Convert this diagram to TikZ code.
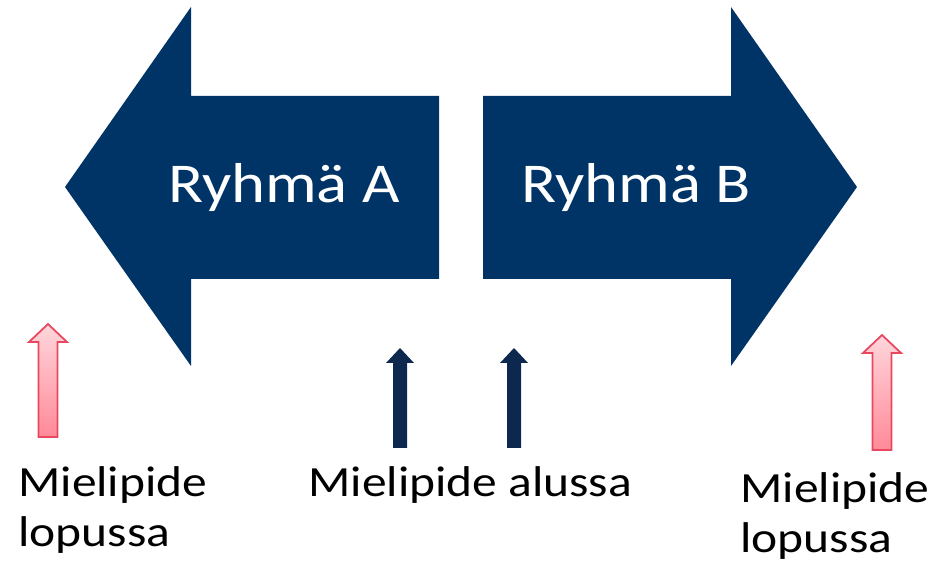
\documentclass[tikz,border=0pt]{standalone}
\usepackage{fontspec}
\setmainfont[FakeStretch=1.15]{Carlito}
\usepackage{tikz}
\usetikzlibrary{positioning}

\definecolor{navy}{RGB}{0,51,102}
\definecolor{darknavy}{RGB}{12,40,78}
\definecolor{pinktop}{RGB}{255,214,220}
\definecolor{pinkbot}{RGB}{255,138,152}
\definecolor{pinkedge}{RGB}{232,72,95}

\begin{document}
\begin{tikzpicture}[
    x=0.02cm, y=-0.02cm,
    bigarrow/.style={fill=navy},
    uparrow/.style={fill=darknavy},
    pinkarrow/.style={draw=pinkedge, line width=1pt, top color=pinktop, bottom color=pinkbot},
    group/.style={text=white, font=\fontsize{32}{36}\selectfont, inner sep=0, anchor=base},
    note/.style={font=\fontsize{24.5}{28.5}\selectfont, align=left, inner sep=0, anchor=base west}
]
    \useasboundingbox (0,0) rectangle (933,573);

    % Group A
    \fill[bigarrow] (65,187) -- (191,7) -- (191,96) -- (439,96) -- (439,279)
        -- (191,279) -- (191,366) -- cycle;
    \node[group] (grpA) at (284,203) {Ryhmä A};

    % Group B
    \fill[bigarrow] (857,187) -- (731,7) -- (731,96) -- (483,96) -- (483,279)
        -- (731,279) -- (731,366) -- cycle;
    \node[group] (grpB) at (636,203) {Ryhmä B};

    % Opinion at start
    \foreach \x in {400,514}
        \fill[uparrow] (\x,348) -- (\x+14,363) -- (\x+7,363) -- (\x+7,448)
            -- (\x-7,448) -- (\x-7,363) -- (\x-14,363) -- cycle;

    % Opinion at end
    \draw[pinkarrow] (48,324) -- (67,342) -- (57.5,342) -- (57.5,437)
        -- (38.5,437) -- (38.5,342) -- (29,342) -- cycle;
    \draw[pinkarrow] (882,335) -- (901,353) -- (891.5,353) -- (891.5,450)
        -- (872.5,450) -- (872.5,353) -- (863,353) -- cycle;

    % Labels (base = last line)
    \node[note] (endA) at (18,547) {Mielipide\\lopussa};
    \node[note] (start) at (308,497) {Mielipide alussa};
    \node[note] (endB) at (740,553) {Mielipide\\lopussa};
\end{tikzpicture}
\end{document}
